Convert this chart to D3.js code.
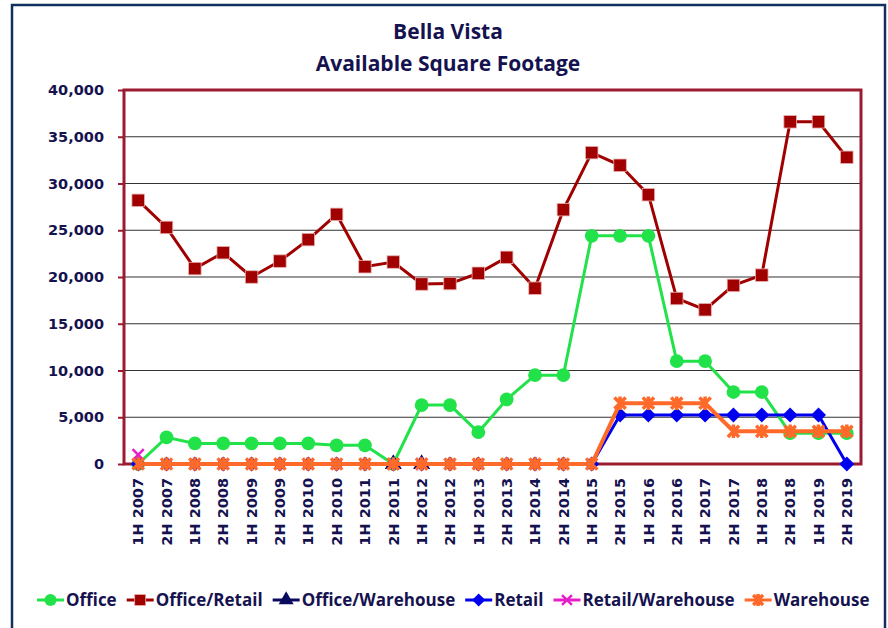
<!DOCTYPE html>
<html>
<head>
<meta charset="utf-8">
<script src="https://cdn.jsdelivr.net/npm/d3@7"></script>
<style>
  body { margin: 0; background: #fff; }
  svg { display: block; }
</style>
</head>
<body>
<svg id="chart" width="888" height="628"></svg>
<script>
// half-year periods
var periods = ["1H 2007", "2H 2007", "1H 2008", "2H 2008", "1H 2009", "2H 2009", "1H 2010", "2H 2010",
  "1H 2011", "2H 2011", "1H 2012", "2H 2012", "1H 2013", "2H 2013", "1H 2014", "2H 2014",
  "1H 2015", "2H 2015", "1H 2016", "2H 2016", "1H 2017", "2H 2017", "1H 2018", "2H 2018",
  "1H 2019", "2H 2019"];

var office = [0, 2850, 2200, 2200, 2200, 2200, 2200, 2000, 2000, 0, 6300, 6300, 3400, 6900,
  9500, 9500, 24400, 24400, 24400, 11000, 11000, 7700, 7700, 3300, 3300, 3300];
var officeRetail = [28200, 25300, 20900, 22600, 20000, 21700, 24000, 26700, 21100, 21600,
  19250, 19300, 20400, 22100, 18800, 27200, 33300, 31950, 28800, 17700, 16500, 19100,
  20200, 36600, 36600, 32800];
var officeWarehouse = [null, null, null, null, null, null, null, null, null, 0, 0, null, null,
  null, null, null, null, null, null, null, null, null, null, null, null, null];
var retail = [0, 0, 0, 0, 0, 0, 0, 0, 0, 0, 0, 0, 0, 0, 0, 0, 0, 5250, 5250, 5250, 5250, 5250,
  5250, 5250, 5250, 0];
var retailWarehouse = [1000, null, null, null, null, null, null, null, null, 0, 0, null, null,
  null, null, null, null, null, null, null, null, null, null, null, null, null];
var warehouse = [0, 0, 0, 0, 0, 0, 0, 0, 0, 0, 0, 0, 0, 0, 0, 0, 0, 6500, 6500, 6500, 6500, 3500,
  3500, 3500, 3500, 3500];

var yTicks = [0, 5000, 10000, 15000, 20000, 25000, 30000, 35000, 40000];

var series = [
  { name: "Office", values: office, color: "#22e24a", marker: "circle" },
  { name: "Office/Retail", values: officeRetail, color: "#a00000", marker: "square" },
  { name: "Office/Warehouse", values: officeWarehouse, color: "#0a0a5e", marker: "triangle" },
  { name: "Retail", values: retail, color: "#0000f0", marker: "diamond" },
  { name: "Retail/Warehouse", values: retailWarehouse, color: "#e81ec8", marker: "x" },
  { name: "Warehouse", values: warehouse, color: "#ff6a2a", marker: "star" }
];

var textColor = "#15124f";
var narrow = "'Liberation Sans Narrow', 'Open Sans', sans-serif";
var wide = "'DejaVu Sans', Verdana, sans-serif";

var svg = d3.select("#chart");
var plotLeft = 124, plotRight = 861, plotTop = 90, plotBottom = 464;

// outer frame
svg.append("rect")
  .attr("x", 12).attr("y", 5)
  .attr("width", 873).attr("height", 650)
  .attr("fill", "#fff")
  .attr("stroke", "#12305f")
  .attr("stroke-width", 2.5);

// title
svg.append("g")
  .style("font", "bold 21px " + narrow)
  .attr("fill", textColor)
  .attr("text-anchor", "middle")
  .selectAll("text")
  .data(["Bella Vista", "Available Square Footage"])
  .enter()
  .append("text")
  .attr("x", 448)
  .attr("y", (d, i) => 39 + i * 32)
  .text(d => d);

var x = d3.scaleBand().domain(periods).range([plotLeft, plotRight]).padding(0);
var y = d3.scaleLinear().domain([0, 40000]).range([plotBottom, plotTop]);
var cx = d => x(d) + x.bandwidth() / 2;

// gridlines
svg.append("g")
  .selectAll("line")
  .data(yTicks.filter(d => d > 0 && d < 40000))
  .enter()
  .append("line")
  .attr("x1", plotLeft).attr("x2", plotRight)
  .attr("y1", d => y(d)).attr("y2", d => y(d))
  .attr("stroke", "#333")
  .attr("stroke-width", 1.2);

// y axis
var yAxis = svg.append("g")
  .attr("transform", "translate(" + plotLeft + ",0)")
  .call(d3.axisLeft(y).tickValues(yTicks).tickSize(6).tickPadding(14).tickFormat(d3.format(",")));
yAxis.select(".domain").remove();
yAxis.selectAll(".tick line").attr("stroke", "#9b1b30").attr("stroke-width", 2);
yAxis.selectAll(".tick text")
  .attr("fill", textColor)
  .style("font", "bold 14.5px " + wide);

// x axis labels
var xAxis = svg.append("g")
  .attr("transform", "translate(0," + plotBottom + ")")
  .call(d3.axisBottom(x).tickSize(0));
xAxis.select(".domain").remove();
xAxis.selectAll(".tick text")
  .attr("transform", "rotate(-90)")
  .attr("text-anchor", "end")
  .attr("x", -14)
  .attr("y", 0)
  .attr("dy", "0.36em")
  .attr("fill", textColor)
  .style("font", "bold 14.5px " + wide);

// plot area border
svg.append("rect")
  .attr("x", plotLeft).attr("y", plotTop)
  .attr("width", plotRight - plotLeft).attr("height", plotBottom - plotTop)
  .attr("fill", "none")
  .attr("stroke", "#9b1b30")
  .attr("stroke-width", 3);

function drawMarker(g, type, color, px, py, s) {
  if (type === "circle") {
    g.append("circle").attr("cx", px).attr("cy", py).attr("r", s * 0.55).attr("fill", color);
  } else if (type === "square") {
    g.append("rect").attr("x", px - s / 2).attr("y", py - s / 2).attr("width", s).attr("height", s)
      .attr("fill", color).attr("stroke", "#e8b0b0").attr("stroke-width", 0.8);
  } else if (type === "triangle") {
    g.append("path").attr("d", d3.symbol(d3.symbolTriangle, s * s * 0.8)()).attr("transform", "translate(" + px + "," + py + ")").attr("fill", color);
  } else if (type === "diamond") {
    var h = s * 0.6;
    g.append("path").attr("d", "M" + px + "," + (py - h) + "L" + (px + h) + "," + py + "L" + px + "," + (py + h) + "L" + (px - h) + "," + py + "Z").attr("fill", color);
  } else if (type === "x" || type === "star") {
    var a = s * 0.45;
    var p = "M" + (px - a) + "," + (py - a) + "L" + (px + a) + "," + (py + a) + "M" + (px - a) + "," + (py + a) + "L" + (px + a) + "," + (py - a);
    if (type === "star") p += "M" + px + "," + (py - a * 1.2) + "L" + px + "," + (py + a * 1.2);
    g.append("path").attr("d", p).attr("stroke", color).attr("stroke-width", type === "star" ? 3.5 : 2.5).attr("fill", "none");
  }
}

var line = d3.line().defined(d => d[1] != null).x(d => d[0]).y(d => d[1]);

series.forEach(function (s) {
  var pts = s.values.map((v, i) => [cx(periods[i]), v == null ? null : y(v)]);
  var g = svg.append("g");
  g.append("path")
    .attr("d", line(pts))
    .attr("fill", "none")
    .attr("stroke", s.color)
    .attr("stroke-width", s.marker === "star" ? 4 : 3);
  pts.filter(p => p[1] != null).forEach(p => drawMarker(g, s.marker, s.color, p[0], p[1], 12.5));
});

// legend
var legend = svg.append("g").attr("transform", "translate(0,600)");
var lx = 37;
series.forEach(function (s) {
  var item = legend.append("g").attr("transform", "translate(" + lx + ",0)");
  item.append("line").attr("x1", 0).attr("x2", 27).attr("y1", 0).attr("y2", 0)
    .attr("stroke", s.color).attr("stroke-width", 3);
  drawMarker(item, s.marker, s.color, 13.5, 0, 11);
  var t = item.append("text")
    .attr("x", 29).attr("y", 0).attr("dy", "0.35em")
    .attr("fill", textColor)
    .style("font", "bold 17px " + narrow)
    .text(s.name);
  lx += 29 + t.node().getComputedTextLength() + 10;
});
</script>
</body>
</html>
